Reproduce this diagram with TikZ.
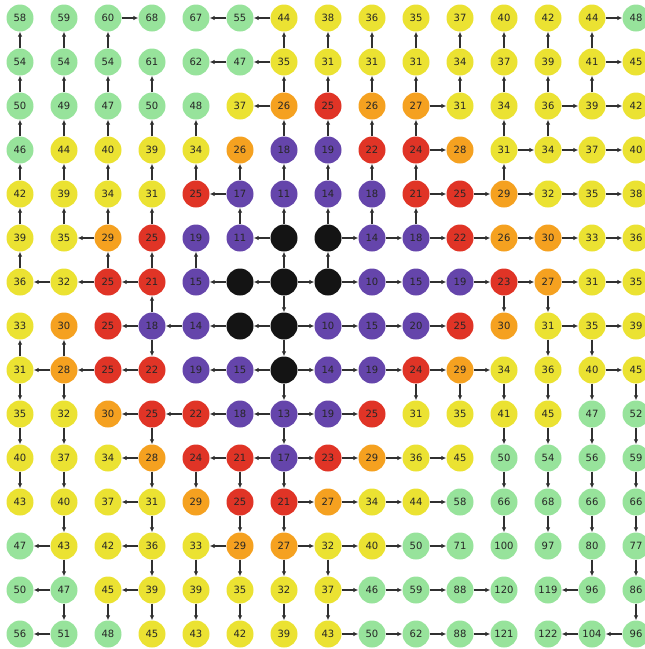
\documentclass[tikz,border=0pt]{standalone}
\usepackage{fontspec}
\setmainfont{DejaVu Sans}
\usetikzlibrary{arrows.meta}
\definecolor{cg}{HTML}{97E39B}
\definecolor{cy}{HTML}{EBE232}
\definecolor{co}{HTML}{F5A120}
\definecolor{cr}{HTML}{E03426}
\definecolor{cp}{HTML}{6545AB}
\definecolor{ck}{HTML}{141414}
\definecolor{txt}{HTML}{262626}
\definecolor{ln}{HTML}{303030}
\begin{document}
\begin{tikzpicture}[x=1pt,y=-1pt,
  cell/.style={circle,minimum size=27pt,inner sep=0pt,draw=none,text=txt,font=\fontsize{10}{12}\selectfont},
  stg/.style={cell,fill=cg}, sty/.style={cell,fill=cy}, sto/.style={cell,fill=co},
  str/.style={cell,fill=cr}, stp/.style={cell,fill=cp}, stk/.style={cell,fill=ck},
  arr/.style={draw=ln,line width=1.1pt,-{Latex[length=5pt,width=4.6pt]}}]
\useasboundingbox (0,0) rectangle (645,649);
\clip (0,0) rectangle (645,649);
\foreach \row [count=\r from 0] in {
 {g/58,g/59,g/60,g/68,g/67,g/55,y/44,y/38,y/36,y/35,y/37,y/40,y/42,y/44,g/48},
 {g/54,g/54,g/54,g/61,g/62,g/47,y/35,y/31,y/31,y/31,y/34,y/37,y/39,y/41,y/45},
 {g/50,g/49,g/47,g/50,g/48,y/37,o/26,r/25,o/26,o/27,y/31,y/34,y/36,y/39,y/42},
 {g/46,y/44,y/40,y/39,y/34,o/26,p/18,p/19,r/22,r/24,o/28,y/31,y/34,y/37,y/40},
 {y/42,y/39,y/34,y/31,r/25,p/17,p/11,p/14,p/18,r/21,r/25,o/29,y/32,y/35,y/38},
 {y/39,y/35,o/29,r/25,p/19,p/11,k/,k/,p/14,p/18,r/22,o/26,o/30,y/33,y/36},
 {y/36,y/32,r/25,r/21,p/15,k/,k/,k/,p/10,p/15,p/19,r/23,o/27,y/31,y/35},
 {y/33,o/30,r/25,p/18,p/14,k/,k/,p/10,p/15,p/20,r/25,o/30,y/31,y/35,y/39},
 {y/31,o/28,r/25,r/22,p/19,p/15,k/,p/14,p/19,r/24,o/29,y/34,y/36,y/40,y/45},
 {y/35,y/32,o/30,r/25,r/22,p/18,p/13,p/19,r/25,y/31,y/35,y/41,y/45,g/47,g/52},
 {y/40,y/37,y/34,o/28,r/24,r/21,p/17,r/23,o/29,y/36,y/45,g/50,g/54,g/56,g/59},
 {y/43,y/40,y/37,y/31,o/29,r/25,r/21,o/27,y/34,y/44,g/58,g/66,g/68,g/66,g/66},
 {g/47,y/43,y/42,y/36,y/33,o/29,o/27,y/32,y/40,g/50,g/71,g/100,g/97,g/80,g/77},
 {g/50,g/47,y/45,y/39,y/39,y/35,y/32,y/37,g/46,g/59,g/88,g/120,g/119,g/96,g/86},
 {g/56,g/51,g/48,y/45,y/43,y/42,y/39,y/43,g/50,g/62,g/88,g/121,g/122,g/104,g/96}}
{
  \foreach \s/\v [count=\c from 0] in \row {
    \node[st\s] (n-\r-\c) at ({20+44*\c},{18+44*\r}) {\v};
  }
}
% up arrows: from (r,c) to (r-1,c)
\foreach \r/\c in {1/0,2/0,3/0,4/0,5/0,6/0,8/0,
  1/1,2/1,3/1,4/1,5/1,8/1,
  1/2,2/2,3/2,4/2,5/2,6/2,
  2/3,3/3,4/3,5/3,6/3,7/3,
  3/4,4/4,6/4,
  4/5,5/5,
  1/6,2/6,3/6,4/6,5/6,6/6,
  1/7,2/7,3/7,4/7,5/7,6/7,
  1/8,2/8,3/8,4/8,5/8,
  1/9,2/9,3/9,4/9,5/9,
  1/10,2/10,
  1/11,2/11,3/11,4/11,
  1/12,2/12,3/12,
  1/13,2/13}
  {\pgfmathtruncatemacro\rr{\r-1}\draw[arr] (n-\r-\c) -- (n-\rr-\c);}
% down arrows
\foreach \r/\c in {8/0,9/0,10/0,
  8/1,9/1,10/1,11/1,12/1,13/1,
  13/2,
  7/3,9/3,10/3,11/3,12/3,13/3,
  10/4,12/4,13/4,
  10/5,11/5,12/5,13/5,
  6/6,7/6,8/6,9/6,10/6,11/6,12/6,13/6,
  12/7,13/7,
  8/9,
  8/10,
  6/11,8/11,9/11,10/11,11/11,
  6/12,7/12,8/12,9/12,10/12,11/12,
  7/13,8/13,9/13,10/13,11/13,12/13,
  8/14,9/14,10/14,11/14,12/14,13/14}
  {\pgfmathtruncatemacro\rr{\r+1}\draw[arr] (n-\r-\c) -- (n-\rr-\c);}
% left arrows
\foreach \r/\c in {0/5,0/6,
  1/5,1/6,
  2/6,
  4/5,
  5/2,5/6,
  6/1,6/2,6/3,6/5,6/6,
  7/3,7/4,7/5,7/6,
  8/1,8/2,8/3,8/5,8/6,
  9/3,9/4,9/5,9/6,
  10/3,10/5,10/6,
  11/3,
  12/1,12/3,12/5,
  13/1,13/3,13/13,
  14/1,14/13,14/14}
  {\pgfmathtruncatemacro\cc{\c-1}\draw[arr] (n-\r-\c) -- (n-\r-\cc);}
% right arrows
\foreach \r/\c in {0/2,0/13,
  1/13,
  2/9,2/12,2/13,
  3/9,3/11,3/12,3/13,
  4/9,4/10,4/11,4/12,4/13,
  5/7,5/8,5/9,5/10,5/11,5/12,5/13,
  6/6,6/7,6/8,6/9,6/10,6/11,6/12,6/13,
  7/6,7/7,7/8,7/9,7/12,7/13,
  8/6,8/7,8/8,8/9,8/10,8/13,
  9/6,9/7,
  10/6,10/7,10/8,10/9,
  11/6,11/7,11/8,11/9,
  12/6,12/7,12/8,12/9,
  13/7,13/8,13/9,13/10,
  14/7,14/8,14/9,14/10}
  {\pgfmathtruncatemacro\cc{\c+1}\draw[arr] (n-\r-\c) -- (n-\r-\cc);}
\end{tikzpicture}
\end{document}
